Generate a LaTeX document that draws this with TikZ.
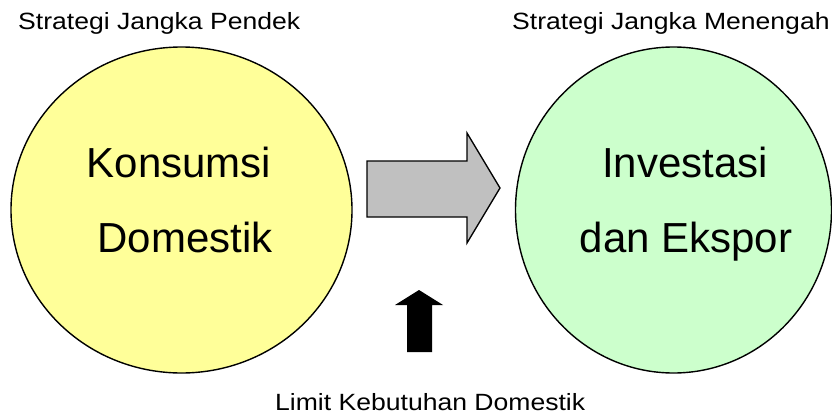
\documentclass[tikz,border=0pt]{standalone}
\usepackage{fontspec}
\setmainfont{Liberation Sans}
\usetikzlibrary{shapes.geometric}
\definecolor{softyellow}{HTML}{FFFF99}
\definecolor{softgreen}{HTML}{CCFFCC}
\definecolor{arrowgrey}{HTML}{C0C0C0}
\tikzset{
  bubble/.style={ellipse, draw=black, line width=1.4pt, inner sep=0pt},
  bigtext/.style={font=\fontsize{42}{42}\selectfont, anchor=base, inner sep=0pt},
  smalltext/.style={font=\fontsize{23.5}{23.5}\selectfont, anchor=base west, inner sep=0pt},
  blockarrow/.style={draw=black, line width=1.3pt, line join=miter},
}
\newcommand{\widetext}[1]{\scalebox{1.13}[1]{#1}}
\begin{document}
\begin{tikzpicture}[x=1pt, y=-1pt]
\useasboundingbox (0,0) rectangle (832,417);
% ellipses
\node[bubble, fill=softyellow, minimum width=341pt, minimum height=326pt] (kons) at (181.5,210) {};
\node[bubble, fill=softgreen, minimum width=316pt, minimum height=326pt] (inv) at (673.5,210) {};
% texts in bubbles
\node[bigtext] (k1) at (179,177) {Konsumsi};
\node[bigtext] (k2) at (185,252) {Domestik};
\node[bigtext] (i1) at (685,177) {Investasi};
\node[bigtext] (i2) at (686,252) {dan Ekspor};
% block arrow right
\path[blockarrow, fill=arrowgrey] (367,161) -- (467,161) -- (467,133) -- (500,188) -- (467,243) -- (467,217) -- (367,217) -- cycle;
% black up arrow
\path[fill=black] (407,352) -- (407,305) -- (395,305) -- (419,290) -- (443,305) -- (432,305) -- (432,352) -- cycle;
% labels
\node[smalltext] (lp) at (18,30) {\widetext{Strategi Jangka Pendek}};
\node[smalltext] (lm) at (512,30) {\widetext{Strategi Jangka Menengah}};
\node[smalltext] (ll) at (275,410.5) {\widetext{Limit Kebutuhan Domestik}};
\end{tikzpicture}
\end{document}
